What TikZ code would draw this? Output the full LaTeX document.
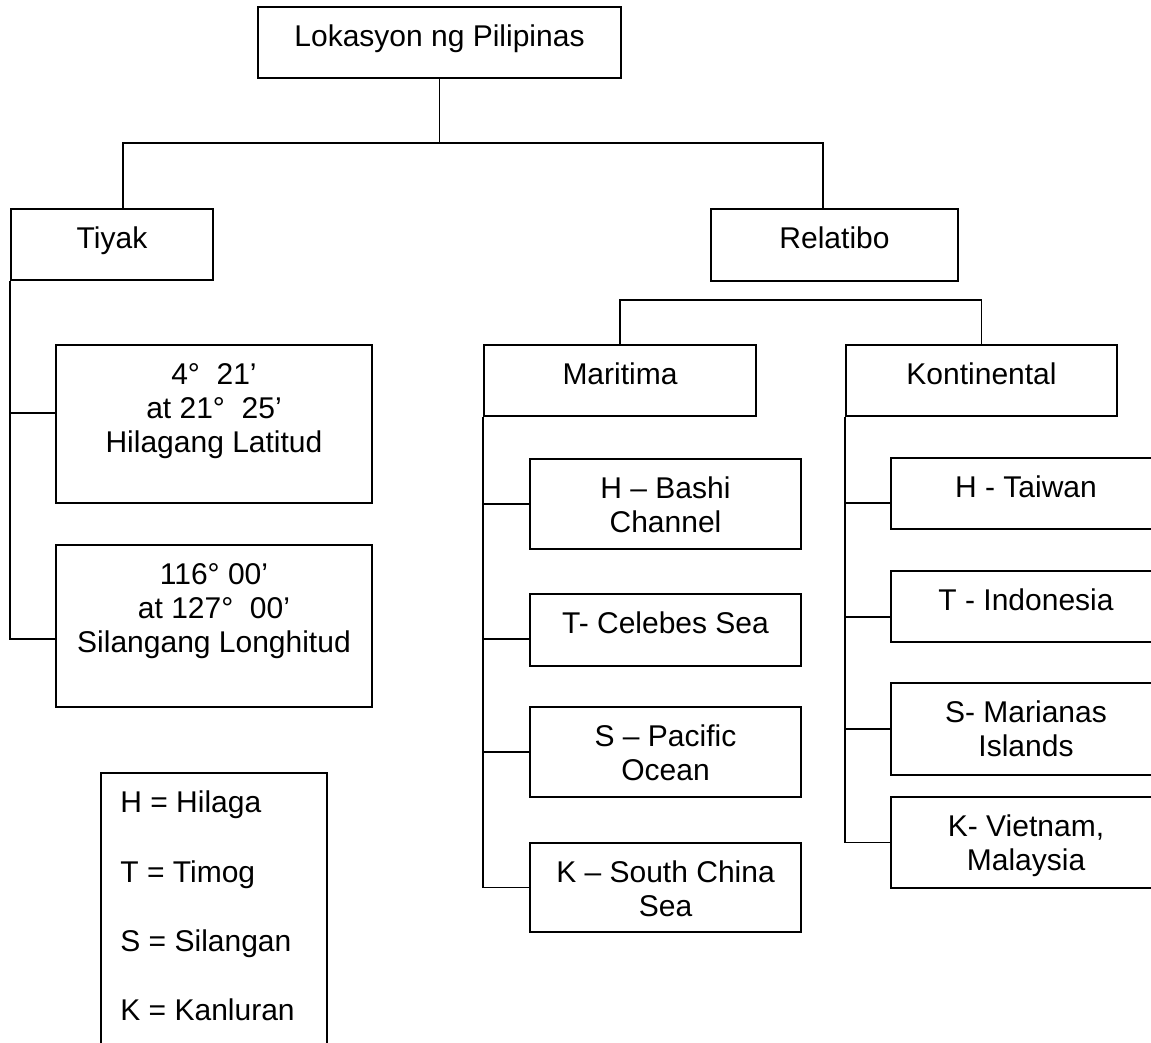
\documentclass[tikz,border=0pt]{standalone}
\usepackage{fontspec}
\setmainfont{Liberation Sans}
\usetikzlibrary{fit}

\begin{document}
\begin{tikzpicture}[x=0.75pt,y=0.75pt,yscale=-1,xscale=1,
  box/.style={draw, line width=1.3pt, inner sep=0pt},
  conn/.style={line width=1pt},
  txt/.style={font=\fontsize{22.5}{25.5}\selectfont, align=center, inner sep=0pt, anchor=north},
  keytxt/.style={font=\fontsize{22.5}{51.9}\selectfont, align=left, inner sep=0pt, anchor=north west}]
%set diagram left start at 0, and has size 1151 x 1042
\clip (0,0) rectangle (1151,1042);

%Boxes
\node[box, fit={(258,7) (621,78)}] (top) {};
\node[box, fit={(11,209) (213,280)}] (tiyak) {};
\node[box, fit={(711,209) (958,281)}] (relatibo) {};
\node[box, fit={(56,345) (372,503)}] (lat) {};
\node[box, fit={(56,545) (372,707)}] (lon) {};
\node[box, fit={(484,345) (756,416)}] (maritima) {};
\node[box, fit={(846,345) (1117,416)}] (kontinental) {};

\node[box, fit={(530,459) (801,549)}] (bashi) {};
\node[box, fit={(530,594) (801,666)}] (celebes) {};
\node[box, fit={(530,707) (801,797)}] (pacific) {};
\node[box, fit={(530,843) (801,932)}] (scs) {};

\node[box, fit={(891,458) (1161,529)}] (taiwan) {};
\node[box, fit={(891,571) (1161,642)}] (indonesia) {};
\node[box, fit={(891,683) (1161,775)}] (marianas) {};
\node[box, fit={(891,797) (1161,888)}] (vietnam) {};

\node[box, fit={(101,773) (327,1060)}] (legend) {};

%Connectors
\coordinate (hub) at (439.5,143);
\coordinate (tiyakdrop) at (123,143);
\coordinate (reldrop) at (823,143);
\coordinate (subbar) at (0,300);
\draw[conn] (top.south) -- (hub);
\draw[conn] (tiyak.north -| tiyakdrop) -- (tiyakdrop) -- (reldrop) -- (relatibo.north -| reldrop);
\draw[conn] (maritima.north) -- (maritima.north |- subbar) -- (kontinental.north |- subbar) -- (kontinental.north);

\coordinate (latin) at ([yshift=-8.25pt]lat.west);
\coordinate (lonin) at ([yshift=9.75pt]lon.west);
\draw[conn] (tiyak.south west) |- (lonin);
\draw[conn] (tiyak.south west |- latin) -- (latin);

\coordinate (celin) at ([yshift=6.75pt]celebes.west);
\draw[conn] (maritima.south west) |- (scs.west);
\draw[conn] (maritima.south west |- bashi.west) -- (bashi.west);
\draw[conn] (maritima.south west |- celin) -- (celin);
\draw[conn] (maritima.south west |- pacific.west) -- (pacific.west);

\coordinate (taiin) at ([yshift=7.1pt]taiwan.west);
\coordinate (indin) at ([yshift=7.9pt]indonesia.west);
\draw[conn] (kontinental.south west) |- (vietnam.west);
\draw[conn] (kontinental.south west |- taiin) -- (taiin);
\draw[conn] (kontinental.south west |- indin) -- (indin);
\draw[conn] (kontinental.south west |- marianas.west) -- (marianas.west);

%Texts
\node[txt] (topT) at ([yshift=14pt]top.north) {Lokasyon ng Pilipinas};
\node[txt] (tiyakT) at ([yshift=14pt]tiyak.north) {Tiyak};
\node[txt] (relatiboT) at ([yshift=14pt]relatibo.north) {Relatibo};
\node[txt] (latT) at ([yshift=14pt]lat.north) {4°\ \ 21’\\at 21°\ \ 25’\\Hilagang Latitud};
\node[txt] (lonT) at ([yshift=14pt]lon.north) {116° 00’\\at 127°\ \ 00’\\Silangang Longhitud};
\node[txt] (maritimaT) at ([yshift=14pt]maritima.north) {Maritima};
\node[txt] (kontinentalT) at ([yshift=14pt]kontinental.north) {Kontinental};

\node[txt] (bashiT) at ([yshift=14pt]bashi.north) {H – Bashi\\Channel};
\node[txt] (celebesT) at ([yshift=14pt]celebes.north) {T- Celebes Sea};
\node[txt] (pacificT) at ([yshift=14pt]pacific.north) {S – Pacific\\Ocean};
\node[txt] (scsT) at ([yshift=14pt]scs.north) {K – South China\\Sea};

\node[txt] (taiwanT) at ([yshift=14pt]taiwan.north) {H - Taiwan};
\node[txt] (indonesiaT) at ([yshift=14pt]indonesia.north) {T - Indonesia};
\node[txt] (marianasT) at ([yshift=14pt]marianas.north) {S- Marianas\\Islands};
\node[txt] (vietnamT) at ([yshift=14pt]vietnam.north) {K- Vietnam,\\Malaysia};

\node[keytxt] (legendT) at ([xshift=15pt,yshift=14pt]legend.north west) {H = Hilaga\\T = Timog\\S = Silangan\\K = Kanluran};

\end{tikzpicture}
\end{document}
